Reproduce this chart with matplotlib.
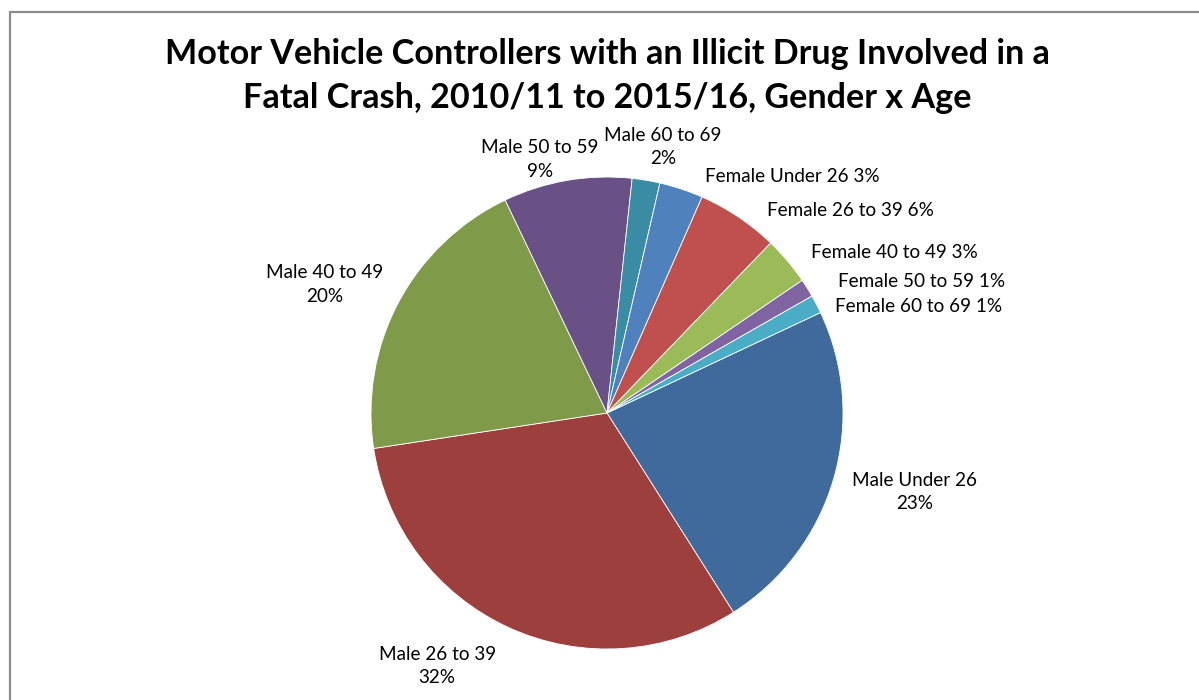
import matplotlib
matplotlib.use("Agg")
from matplotlib import pyplot as plt
from matplotlib.patches import Rectangle
import numpy as np

# slice data, clockwise from the first wedge
groups = ['Male Under 26', 'Male 26 to 39', 'Male 40 to 49', 'Male 50 to 59',
          'Male 60 to 69', 'Female Under 26', 'Female 26 to 39',
          'Female 40 to 49', 'Female 50 to 59', 'Female 60 to 69']
shares = [23.0, 31.6, 20.3, 8.8, 1.9, 3.0, 5.6, 3.3, 1.25, 1.25]

colors = ['#406A9B', '#9D403D', '#7F9A48', '#695085', '#3A8CA4',
          '#4F81BD', '#C0504D', '#9BBB59', '#8064A2', '#4BACC6']

# label offsets (pixels) from the wedge edge at its mid angle
label_offsets = [(81, -13), (-72, -38), (-74, 18), (-27, 21), (17, 33),
                 (24, 13), (29, 6), (24, 8), (31, 7), (19, -2)]

W, H = 1199, 700
fig = plt.figure(figsize=(W / 100, H / 100), dpi=100)
ax = fig.add_axes([0, 0, 1, 1])
ax.set_xlim(0, W)
ax.set_ylim(0, H)
ax.set_aspect('equal')
ax.axis('off')

cx, cy, R = 607, H - 413, 236
wedges, _ = ax.pie(shares, colors=colors, center=(cx, cy), radius=R,
                   startangle=25.2, counterclock=False,
                   wedgeprops=dict(edgecolor='white', linewidth=0.6))
ax.set_xlim(0, W)
ax.set_ylim(0, H)

for w, name, v, off in zip(wedges, groups, shares, label_offsets):
    mid = np.deg2rad((w.theta1 + w.theta2) / 2)
    px, py = cx + R * np.cos(mid), cy + R * np.sin(mid)
    if name.startswith('Male'):
        txt, ha = f"{name}\n{round(v)}%", 'center'
    else:
        txt, ha = f"{name} {round(v)}%", 'left'
    ax.annotate(txt, xy=(px, py), xytext=off, textcoords='offset pixels',
                ha=ha, va='center', fontsize=13.6, family='Lato',
                linespacing=1.45, color='black')

ax.text(607, H - 76, 'Motor Vehicle Controllers with an Illicit Drug Involved in a\n'
        'Fatal Crash, 2010/11 to 2015/16, Gender x Age',
        ha='center', va='center', fontsize=24.6, fontweight='bold',
        family='Lato', linespacing=1.5)

# chart frame, cut by the image edge on the right and bottom
ax.add_patch(Rectangle((10, -20), W + 20, H - 12 + 20, fill=False,
                       edgecolor='#8c8c8c', linewidth=1.6, clip_on=False))

fig.savefig('out.png', dpi=100)
